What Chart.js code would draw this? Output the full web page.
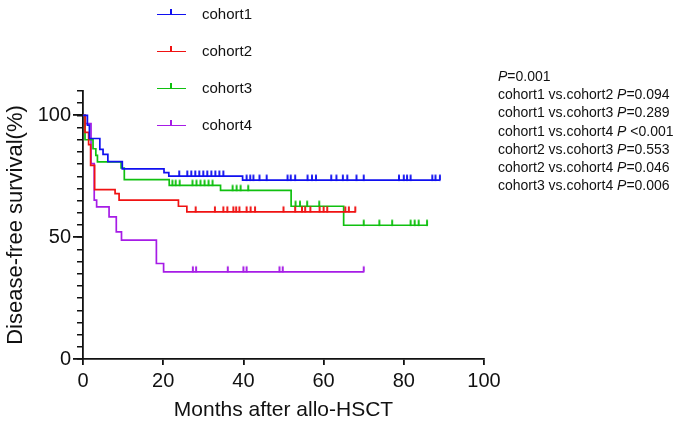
<!DOCTYPE html>
<html>
<head>
<meta charset="utf-8">
<script src="https://cdn.jsdelivr.net/npm/chart.js@4.4.1/dist/chart.umd.min.js"></script>
<style>
  body { margin: 0; background: #fff; }
  #wrap { position: relative; width: 685px; height: 429px; font-family: "Liberation Sans", Arial, sans-serif; color: #111; }
  #chart { position: absolute; left: 0; top: 0; }
  .leg { position: absolute; left: 157px; height: 20px; font-size: 15px; }
  .leg .handle { position: absolute; left: 0; top: 10px; width: 29px; border-top: 1.8px solid; }
  .leg .handle i { position: absolute; left: 13px; top: -6px; height: 5px; border-left: 2px solid; }
  .leg span { position: absolute; left: 45px; top: 1px; white-space: nowrap; }
  #pvals { position: absolute; left: 498px; top: 67px; font-size: 14px; line-height: 18.2px; white-space: nowrap; }
</style>
</head>
<body>
<div id="wrap">
  <canvas id="chart" width="685" height="429"></canvas>
  <div id="legend"></div>
  <div id="pvals"></div>
</div>
<script>
"use strict";

// Kaplan-Meier steps (months, % surviving)
var cohort1Times = [0, 1.1, 1.6, 4.2, 5.0, 6.2, 9.8, 20.2, 21.4, 39.8];
var cohort1Surv = [100, 96, 90.5, 86, 84, 81, 78, 76.5, 75.1, 73.4];
var cohort1End = 89;
var cohort1Censor = [24, 26, 27, 28, 29, 30, 31, 32, 33, 34, 35, 40.8, 41.7, 42.5, 44, 45.8, 51, 51.8, 52.9, 56, 57.1, 58.1, 61.9, 63.2, 64.8, 65.9, 68.2, 70, 78.8, 80, 80.8, 81.7, 87.1, 87.9, 89];

var cohort2Times = [0, 0.5, 1.4, 1.9, 2.9, 8.0, 9.0, 23.8, 25.9];
var cohort2Surv = [100, 93, 88, 79.5, 69.5, 67.9, 65.2, 62.7, 60.4];
var cohort2End = 68;
var cohort2Censor = [28.1, 32.9, 35, 36, 37.5, 38.2, 39, 40.8, 41.8, 42.9, 50, 52.9, 54.6, 55.4, 56.7, 59, 60, 60.9, 65.4, 66.3, 67.9];

var cohort3Times = [0, 0.5, 2.5, 3.2, 3.6, 9.5, 10.3, 21.5, 34.3, 51.9, 65];
var cohort3Surv = [100, 90, 86.3, 83.6, 80.9, 78.4, 73.6, 71.3, 69.2, 62.7, 54.9];
var cohort3End = 86;
var cohort3Censor = [22.3, 23.1, 24.1, 27.3, 28.3, 29.3, 30.3, 31.3, 32.3, 37.3, 38.3, 39.3, 41.2, 53, 54.1, 55.9, 58.9, 70, 73.9, 77.1, 81.7, 82.7, 83.7, 85.8];

var cohort4Times = [0, 0.6, 2.0, 2.8, 3.4, 6.5, 8.3, 9.6, 18.3, 20.1];
var cohort4Surv = [100, 96.6, 80.2, 65.2, 62.4, 58.3, 52.2, 48.8, 39.2, 35.8];
var cohort4End = 70;
var cohort4Censor = [27.4, 28.2, 36.1, 40, 40.8, 49, 49.8, 70];

var cohortNames = ["cohort1", "cohort2", "cohort3", "cohort4"];
var cohortColors = ["#1010f0", "#f01212", "#10c010", "#a61ce6"];

var pValueLines = [
  ["", "P", "=0.001"],
  ["cohort1 vs.cohort2 ", "P", "=0.094"],
  ["cohort1 vs.cohort3 ", "P", "=0.289"],
  ["cohort1 vs.cohort4 ", "P", " <0.001"],
  ["cohort2 vs.cohort3 ", "P", "=0.553"],
  ["cohort2 vs.cohort4 ", "P", "=0.046"],
  ["cohort3 vs.cohort4 ", "P", "=0.006"]
];

var xTickStep = 20;
var yMajorStep = 50;
var yMinorStep = 5;

var cohorts = [
  { times: cohort1Times, surv: cohort1Surv, end: cohort1End, censor: cohort1Censor },
  { times: cohort2Times, surv: cohort2Surv, end: cohort2End, censor: cohort2Censor },
  { times: cohort3Times, surv: cohort3Surv, end: cohort3End, censor: cohort3Censor },
  { times: cohort4Times, surv: cohort4Surv, end: cohort4End, censor: cohort4Censor }
];

// survival level in force at time t
function survAt(c, t) {
  var s = c.surv[0];
  for (var i = 0; i < c.times.length; i++) {
    if (c.times[i] <= t) s = c.surv[i];
  }
  return s;
}

// small upward tick used for censored patients
function tickMark(color) {
  var cv = document.createElement("canvas");
  cv.width = 4;
  cv.height = 14;
  var g = cv.getContext("2d");
  g.strokeStyle = color;
  g.lineWidth = 1.9;
  g.beginPath();
  g.moveTo(2, 1.5);
  g.lineTo(2, 7.5);
  g.stroke();
  return cv;
}

var datasets = [];
cohorts.forEach(function (c, k) {
  var pts = c.times.map(function (t, i) { return { x: t, y: c.surv[i] }; });
  pts.push({ x: c.end, y: c.surv[c.surv.length - 1] });
  datasets.push({
    type: "line",
    label: cohortNames[k],
    data: pts,
    stepped: true,
    borderColor: cohortColors[k],
    borderWidth: 1.7,
    pointRadius: 0,
    fill: false
  });
  datasets.push({
    type: "scatter",
    label: cohortNames[k] + " censored",
    data: c.censor.map(function (t) { return { x: t, y: survAt(c, t) }; }),
    pointStyle: tickMark(cohortColors[k]),
    pointRadius: 3
  });
});

var fontFamily = '"Liberation Sans", Arial, sans-serif';

var chartCanvas = document.getElementById("chart");
var kmChart = new Chart(chartCanvas, {
  type: "line",
  data: { datasets: datasets },
  options: {
    responsive: false,
    animation: false,
    layout: { padding: { left: 0, right: 201, top: 91, bottom: 0 } },
    plugins: { legend: { display: false }, tooltip: { enabled: false } },
    scales: {
      x: {
        type: "linear",
        min: 0,
        max: 100,
        afterFit: function (s) { s.height = 70; },
        border: { color: "#111", width: 1.8 },
        grid: { drawOnChartArea: false, tickLength: 6, color: "#111", lineWidth: 1.8 },
        ticks: { stepSize: xTickStep, color: "#111", padding: 4, maxRotation: 0, font: { size: 20, family: fontFamily } },
        title: { display: true, text: "Months after allo-HSCT", color: "#111", font: { size: 21, family: fontFamily }, padding: { top: 0, bottom: 6 } }
      },
      y: {
        type: "linear",
        position: "left",
        min: 0,
        max: 110,
        weight: 1,
        afterFit: function (s) { s.width = 83; },
        border: { color: "#111", width: 1.8 },
        grid: { drawOnChartArea: false, tickLength: 10, color: "#111", lineWidth: 1.8 },
        ticks: { stepSize: yMajorStep, includeBounds: false, color: "#111", padding: 2, font: { size: 20, family: fontFamily } },
        title: { display: true, text: "Disease-free survival(%)", color: "#111", font: { size: 22, family: fontFamily }, padding: { top: 3, bottom: 0 } }
      },
      yMinor: {
        type: "linear",
        position: "left",
        min: 0,
        max: 110,
        weight: 0,
        afterFit: function (s) { s.width = 0; },
        border: { display: false },
        grid: { drawOnChartArea: false, tickLength: 6, color: "#111", lineWidth: 1.5 },
        ticks: { stepSize: yMinorStep, display: false }
      }
    }
  }
});

// legend: line with a censor tick, as in the figure
var legendBox = document.getElementById("legend");
cohortNames.forEach(function (name, k) {
  var row = document.createElement("div");
  row.className = "leg";
  row.style.top = (4 + k * 37) + "px";
  row.innerHTML = '<div class="handle" style="border-color:' + cohortColors[k] + '"><i style="border-color:' + cohortColors[k] + '"></i></div><span>' + name + "</span>";
  legendBox.appendChild(row);
});

var pBox = document.getElementById("pvals");
pValueLines.forEach(function (l) {
  var d = document.createElement("div");
  d.innerHTML = l[0] + "<i>" + l[1] + "</i>" + l[2];
  pBox.appendChild(d);
});
</script>
</body>
</html>
